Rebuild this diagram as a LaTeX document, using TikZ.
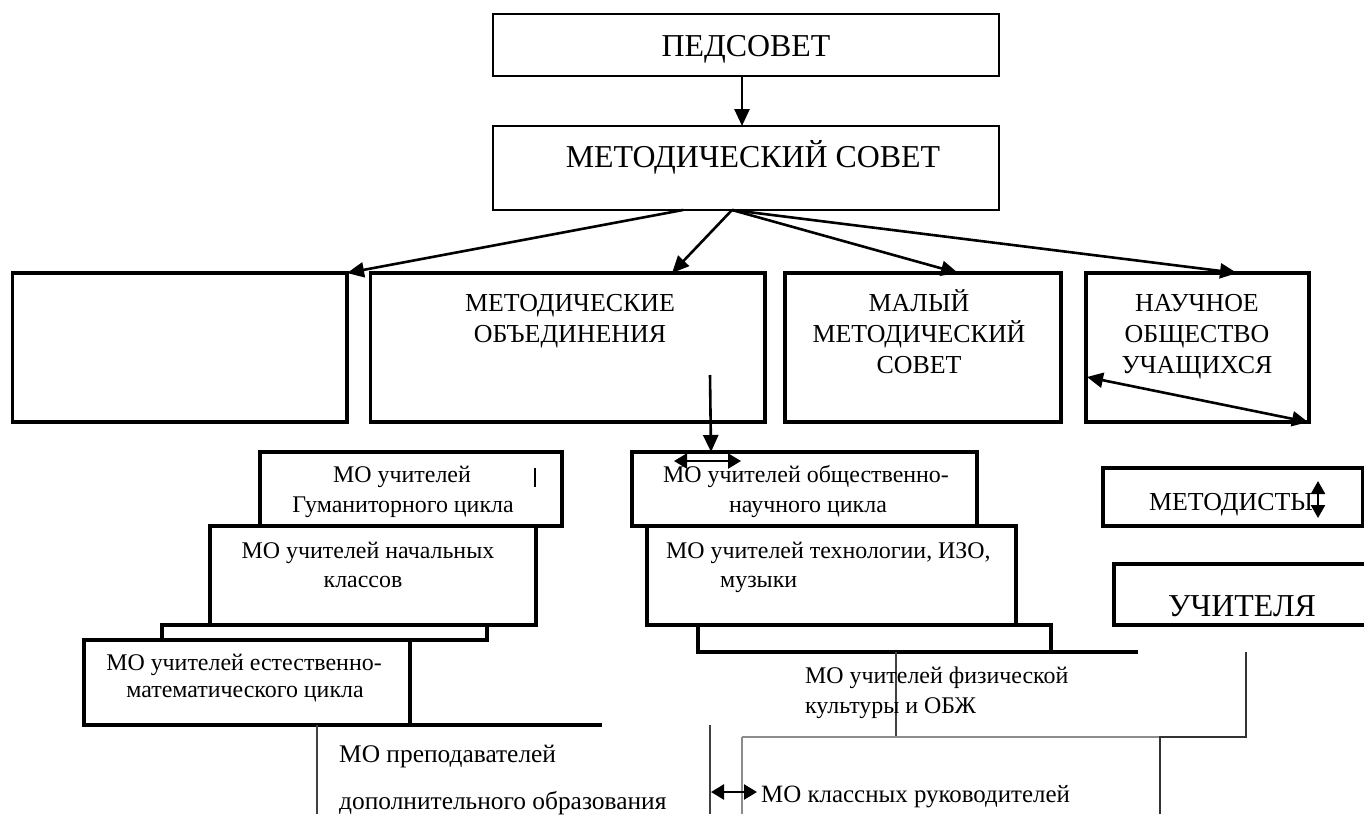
\documentclass[tikz,border=0pt]{standalone}
\usepackage{fontspec}
\setmainfont{Liberation Serif}
\usetikzlibrary{arrows.meta}
\begin{document}
\begin{tikzpicture}[x=1bp,y=-1bp,
  topbox/.style={draw, line width=2bp, inner sep=0pt, outer sep=0pt, anchor=north west},
  thickbox/.style={draw, line width=3.8bp, inner sep=0pt, outer sep=0pt, anchor=north west},
  bigtxt/.style={inner sep=0pt, anchor=base, font=\fontsize{32}{38}\selectfont},
  midtxt/.style={inner sep=0pt, anchor=base, font=\fontsize{26}{31}\selectfont},
  smalltxt/.style={inner sep=0pt, anchor=base, font=\fontsize{24}{30}\selectfont},
  lefttxt/.style={inner sep=0pt, anchor=base west, font=\fontsize{24}{30}\selectfont},
  arr/.style={line width=2.6bp, -{Triangle[length=17bp,width=15bp]}},
  darr/.style={line width=2.6bp, {Triangle[length=16bp,width=15bp]}-{Triangle[length=16bp,width=15bp]}},
  smalldarr/.style={line width=2.4bp, {Triangle[length=13bp,width=15bp]}-{Triangle[length=13bp,width=15bp]}},
  thinline/.style={line width=1.5bp, draw=black!75},
  greyline/.style={line width=1.1bp, draw=black!45},
  frameline/.style={line width=3.8bp, line cap=rect},
  stepline/.style={line width=2bp, draw=black!80}]
\useasboundingbox (0,0) rectangle (1364,814);
\clip (0,0) rectangle (1364,814);

% top boxes
\node[topbox, minimum width=506bp, minimum height=62bp] (ped) at (493,14) {};
\node[bigtxt] (pedt) at (746,57) {ПЕДСОВЕТ};
\node[topbox, minimum width=506bp, minimum height=84bp] (ms) at (493,126) {};
\node[bigtxt] (mst) at (753,167) {МЕТОДИЧЕСКИЙ СОВЕТ};
\draw[arr] ([xshift=249bp]ped.south west) -- ([xshift=249bp]ms.north west);

% second row
\node[thickbox, minimum width=334.5bp, minimum height=149bp] (empty) at (12.5,273) {};
\node[thickbox, minimum width=394.5bp, minimum height=149bp] (mo) at (370.5,273) {};
\node[midtxt] (mot1) at (570,311) {МЕТОДИЧЕСКИЕ};
\node[midtxt] (mot2) at (570,342) {ОБЪЕДИНЕНИЯ};
\node[thickbox, minimum width=276bp, minimum height=149bp] (mms) at (785,273) {};
\node[midtxt] (mmst1) at (919,311) {МАЛЫЙ};
\node[midtxt] (mmst2) at (919,342) {МЕТОДИЧЕСКИЙ};
\node[midtxt] (mmst3) at (919,373) {СОВЕТ};
\node[thickbox, minimum width=223bp, minimum height=149bp] (nou) at (1086,273) {};
\node[midtxt] (nout1) at (1197,311) {НАУЧНОЕ};
\node[midtxt] (nout2) at (1197,342) {ОБЩЕСТВО};
\node[midtxt] (nout3) at (1197,373) {УЧАЩИХСЯ};

\coordinate (msA) at (683,210);
\coordinate (msB) at (732,210);
\draw[arr] (msA) -- (empty.north east);
\draw[arr] (msB) -- ([xshift=301.5bp]mo.north west);
\draw[arr] (msB) -- ([xshift=173bp]mms.north west);
\draw[arr] (msB) -- ([xshift=151bp]nou.north west);
\coordinate (nouA) at (1087,377);
\coordinate (nouB) at (1308,422);
\draw[darr] (nouA) -- (nouB);

% left group
\node[thickbox, minimum width=302bp, minimum height=74bp] (gum) at (260,452) {};
\node[smalltxt] (gumt1) at (402,482) {МО учителей};
\node[smalltxt] (gumt2) at (403,512) {Гуманиторного цикла};
\draw[line width=2.5bp] (535,468) -- (535,487);
\node[thickbox, minimum width=326bp, minimum height=99bp] (nach) at (210,526) {};
\node[smalltxt] (nacht1) at (368,558) {МО учителей начальных};
\node[smalltxt] (nacht2) at (363,587) {классов};
\node[thickbox, minimum width=325bp, minimum height=15bp] (strip1) at (162,625) {};
\node[thickbox, minimum width=326bp, minimum height=85bp] (est) at (84,640) {};
\node[smalltxt] (estt1) at (244,670) {МО учителей естественно-};
\node[smalltxt] (estt2) at (245,697) {математического цикла};
\coordinate (estE) at (600,725);
\draw[frameline] (est.south east) -- (estE);
\coordinate (dopTop) at (317,725);
\coordinate (dopBot) at (317,814);
\draw[thinline] (dopTop) -- (dopBot);
\node[lefttxt, font=\fontsize{25.5}{30}\selectfont] (dop1) at (339,762) {МО преподавателей};
\node[lefttxt, font=\fontsize{25.5}{30}\selectfont] (dop2) at (339,809) {дополнительного образования};

% middle group
\node[thickbox, minimum width=345bp, minimum height=74bp] (obs) at (632,452) {};
\node[smalltxt] (obst1) at (806,482) {МО учителей общественно-};
\node[smalltxt] (obst2) at (808,512) {научного цикла};
\node[thickbox, minimum width=369bp, minimum height=99bp] (tech) at (647,526) {};
\node[lefttxt] (techt1) at (666,558) {МО учителей технологии, ИЗО,};
\node[lefttxt] (techt2) at (720,587) {музыки};
\node[thickbox, minimum width=353bp, minimum height=27bp] (strip2) at (698,625) {};
\coordinate (stripE) at (1136,652);
\draw[frameline] (strip2.south east) -- (stripE);

\coordinate (moArr) at (710,375);
\draw[arr] (moArr) -- ([xshift=79bp]obs.north west);
\coordinate (obsL) at (674,461);
\coordinate (obsR) at (741,461);
\draw[smalldarr] (obsL) -- (obsR);

% physical culture
\coordinate (fizTop) at (896,652);
\coordinate (fizBot) at (896,737);
\draw[thinline] (fizTop) -- (fizBot);
\node[lefttxt] (fiz1) at (805,683) {МО учителей физической};
\node[lefttxt] (fiz2) at (805,713) {культуры и ОБЖ};

% classroom teachers
\coordinate (klA) at (742,737);
\coordinate (klB) at (1160,737);
\coordinate (klC) at (1246,737);
\coordinate (klD) at (1246,652);
\coordinate (klE) at (1160,814);
\coordinate (klF) at (742,814);
\draw[greyline] (klA) -- (klB);
\draw[greyline] (klA) -- (klF);
\draw[stepline] (klE) -- (klB) -- (klC) -- (klD);
\coordinate (lvTop) at (710,725);
\coordinate (lvBot) at (710,814);
\draw[thinline] (lvTop) -- (lvBot);
\coordinate (klL) at (711,792);
\coordinate (klR) at (757,792);
\draw[smalldarr] (klL) -- (klR);
\node[lefttxt, font=\fontsize{25}{30}\selectfont] (kl) at (761,802) {МО классных руководителей};

% right group
\node[thickbox, minimum width=260bp, minimum height=58bp] (met) at (1103,468) {};
\node[midtxt] (mett) at (1231,510) {МЕТОДИСТЫ};
\coordinate (metU) at (1318,481);
\coordinate (metD) at (1318,518);
\draw[line width=2.4bp, {Triangle[length=13bp,width=14bp]}-{Triangle[length=13bp,width=14bp]}] (metU) -- (metD);
\node[thickbox, minimum width=270bp, minimum height=61bp] (uch) at (1114,564) {};
\node[bigtxt] (ucht) at (1242,616) {УЧИТЕЛЯ};
\end{tikzpicture}
\end{document}
